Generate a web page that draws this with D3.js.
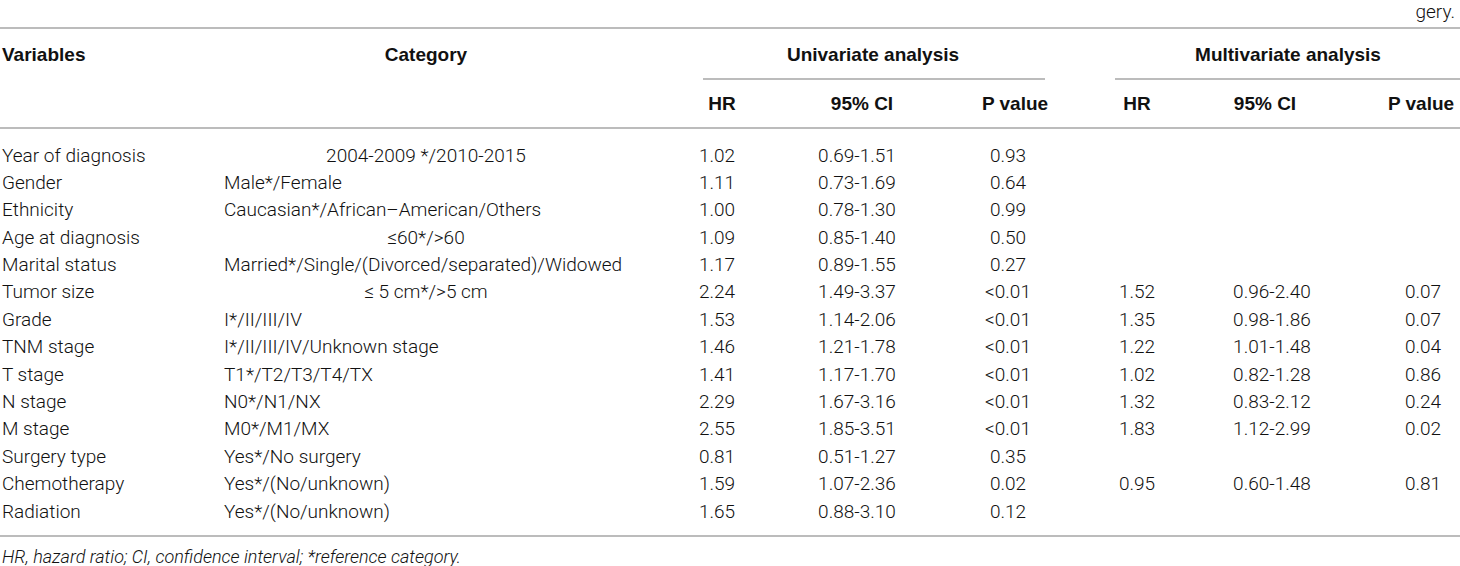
<!DOCTYPE html>
<html>
<head>
<meta charset="utf-8">
<script src="https://cdn.jsdelivr.net/npm/d3@7/dist/d3.min.js"></script>
<style>
  html, body { margin: 0; padding: 0; background: #fff; }
  svg { display: block; }
  .body { font-family: Roboto, "Liberation Sans", Arial, sans-serif; font-weight: 300; font-size: 19px; fill: #111; }
  .head { font-family: "Liberation Sans Narrow", "Arial Narrow", "Liberation Sans", sans-serif; font-weight: bold; font-size: 19px; fill: #111; }
  .foot { font-family: Roboto, "Liberation Sans", Arial, sans-serif; font-weight: 300; font-style: italic; font-size: 18px; fill: #111; }
</style>
</head>
<body>
<svg id="chart" width="1460" height="566"></svg>
<script>
// ---- data ----
const variables = ["Year of diagnosis","Gender","Ethnicity","Age at diagnosis","Marital status","Tumor size","Grade","TNM stage","T stage","N stage","M stage","Surgery type","Chemotherapy","Radiation"];
const categories = ["2004-2009 */2010-2015","Male*/Female","Caucasian*/African\u2013American/Others","\u226460*/>60","Married*/Single/(Divorced/separated)/Widowed","\u2264 5 cm*/>5 cm","I*/II/III/IV","I*/II/III/IV/Unknown stage","T1*/T2/T3/T4/TX","N0*/N1/NX","M0*/M1/MX","Yes*/No surgery","Yes*/(No/unknown)","Yes*/(No/unknown)"];
const categoryCentered = [true,false,false,true,false,true,false,false,false,false,false,false,false,false];
const uniHR = ["1.02","1.11","1.00","1.09","1.17","2.24","1.53","1.46","1.41","2.29","2.55","0.81","1.59","1.65"];
const uniCI = ["0.69-1.51","0.73-1.69","0.78-1.30","0.85-1.40","0.89-1.55","1.49-3.37","1.14-2.06","1.21-1.78","1.17-1.70","1.67-3.16","1.85-3.51","0.51-1.27","1.07-2.36","0.88-3.10"];
const uniP = ["0.93","0.64","0.99","0.50","0.27","<0.01","<0.01","<0.01","<0.01","<0.01","<0.01","0.35","0.02","0.12"];
const multiHR = ["","","","","","1.52","1.35","1.22","1.02","1.32","1.83","","0.95",""];
const multiCI = ["","","","","","0.96-2.40","0.98-1.86","1.01-1.48","0.82-1.28","0.83-2.12","1.12-2.99","","0.60-1.48",""];
const multiP = ["","","","","","0.07","0.07","0.04","0.86","0.24","0.02","","0.81",""];
const groupHeaders = ["Univariate analysis","Multivariate analysis"];
const subHeaders = ["HR","95% CI","P value"];
const footnote = "HR, hazard ratio; CI, confidence interval; *reference category.";
const topFragment = "gery.";

// ---- layout ----
const svg = d3.select("#chart");
const W = 1460;
const rowIdx = d3.range(variables.length);
const y = d3.scaleLinear().domain([0, variables.length - 1]).range([155, 511]);

const colX = {
  varL: 2, catL: 224, catC: 426,
  uHR: 717, uCI: 857, uP: 1008,
  mHR: 1137, mCI: 1272, mP: 1423
};
const lineColor = "#a6a6a6";

svg.append("text").attr("class","body").attr("x", 1455).attr("y", 18)
  .attr("text-anchor","end").text(topFragment);

const rules = [
  {x1:0, x2:W, y:28},
  {x1:703, x2:1045, y:79},
  {x1:1115, x2:W, y:79},
  {x1:0, x2:W, y:128},
  {x1:0, x2:W, y:536}
];
svg.selectAll("line.rule").data(rules).join("line")
  .attr("class","rule")
  .attr("x1", d=>d.x1).attr("x2", d=>d.x2)
  .attr("y1", d=>d.y).attr("y2", d=>d.y)
  .attr("stroke", lineColor).attr("stroke-width", 1.6);

const h1 = 61, h2 = 110;
svg.append("text").attr("class","head").attr("x", colX.varL).attr("y", h1).text("Variables");
svg.append("text").attr("class","head").attr("x", colX.catC).attr("y", h1).attr("text-anchor","middle").text("Category");
svg.append("text").attr("class","head").attr("x", 873).attr("y", h1).attr("text-anchor","middle").text(groupHeaders[0]);
svg.append("text").attr("class","head").attr("x", 1288).attr("y", h1).attr("text-anchor","middle").text(groupHeaders[1]);

const subCols = [722, 862, 1015, 1137, 1265, 1421];
svg.selectAll("text.sub").data(subCols).join("text")
  .attr("class","head sub")
  .attr("x", d=>d).attr("y", h2).attr("text-anchor","middle")
  .text((d,i)=>subHeaders[i % 3]);

const dy = 6.5;
const g = svg.append("g").attr("class","body");
g.selectAll("text.var").data(rowIdx).join("text")
  .attr("class","var").attr("x", colX.varL).attr("y", i=>y(i)+dy).text(i=>variables[i]);
g.selectAll("text.cat").data(rowIdx).join("text")
  .attr("class","cat")
  .attr("x", i=>categoryCentered[i] ? colX.catC : colX.catL)
  .attr("text-anchor", i=>categoryCentered[i] ? "middle" : "start")
  .attr("y", i=>y(i)+dy).text(i=>categories[i]);

const numCols = [
  {arr: uniHR, x: colX.uHR}, {arr: uniCI, x: colX.uCI}, {arr: uniP, x: colX.uP},
  {arr: multiHR, x: colX.mHR}, {arr: multiCI, x: colX.mCI}, {arr: multiP, x: colX.mP}
];
numCols.forEach(c => {
  g.append("g").selectAll("text").data(rowIdx).join("text")
    .attr("x", c.x).attr("y", i=>y(i)+dy).attr("text-anchor","middle")
    .text(i=>c.arr[i]);
});

svg.append("text").attr("class","foot").attr("x", 2).attr("y", 563).text(footnote);
</script>
</body>
</html>
